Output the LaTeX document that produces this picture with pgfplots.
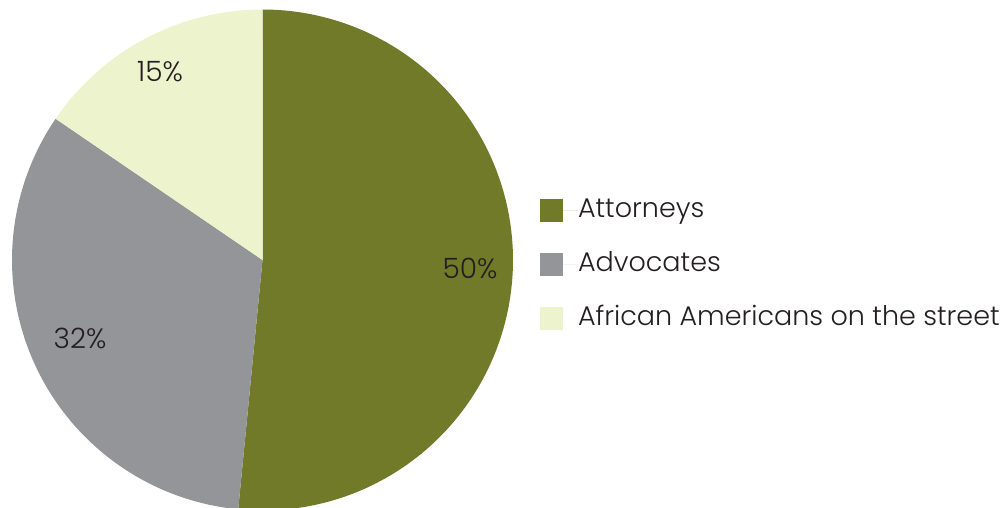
\documentclass[border=0pt]{standalone}
\usepackage{pgfplots}
\pgfplotsset{compat=1.18}
\usepackage{fontspec}
\setmainfont{Poppins Light}
\definecolor{attgreen}{HTML}{717A29}
\definecolor{advgrey}{HTML}{939598}
\definecolor{afrylw}{HTML}{ECF3CD}
\definecolor{txt}{HTML}{231F20}
\def\vA{50}\def\vB{32}\def\vC{15}
\pgfmathsetmacro\tot{\vA+\vB+\vC}
\pgfmathsetmacro\aA{\vA/\tot*360}
\pgfmathsetmacro\aB{\aA+\vB/\tot*360}
\begin{document}
\begin{tikzpicture}
\begin{axis}[
  width=500pt, height=254pt, scale only axis,
  xmin=0, xmax=1000, ymin=0, ymax=508, y dir=reverse,
  hide axis, clip=false,
  legend cell align=left,
  legend image code/.code={\fill[#1] (-5.75pt,-5.75pt) rectangle (5.75pt,5.75pt);
    \path (-5.75pt,0pt) -- (13.25pt,0pt);},
  legend style={draw=none, fill=none, inner sep=0pt, outer sep=0pt,
    at={(axis cs:540,198)}, anchor=north west,
    font=\fontsize{13.5pt}{15pt}\selectfont\color{txt},
    row sep=15pt,
    nodes={inner sep=0pt, text height=9.5pt, text depth=2.5pt},
    /tikz/every even column/.append style={column sep=0pt}},
]
\addplot[fill=attgreen, draw=none, domain=0:\aA, samples=150, variable=\t]
  ({262.5+250.5*sin(t)},{260-250.5*cos(t)}) -- (axis cs:262.5,260) -- cycle;
\addlegendentry{Attorneys}
\addplot[fill=advgrey, draw=none, domain=\aA:\aB, samples=100, variable=\t]
  ({262.5+250.5*sin(t)},{260-250.5*cos(t)}) -- (axis cs:262.5,260) -- cycle;
\addlegendentry{Advocates}
\addplot[fill=afrylw, draw=none, domain=\aB:360, samples=60, variable=\t]
  ({262.5+250.5*sin(t)},{260-250.5*cos(t)}) -- (axis cs:262.5,260) -- cycle;
\addlegendentry{African Americans on the street}
\node[txt, font=\fontsize{14pt}{16pt}\selectfont] at (axis cs:470,268) {50\%};
\node[txt, font=\fontsize{14pt}{16pt}\selectfont] at (axis cs:80,338) {32\%};
\node[txt, font=\fontsize{14pt}{16pt}\selectfont] at (axis cs:160,72) {15\%};
\coordinate (bl) at (axis cs:0,508);
\coordinate (tr) at (axis cs:1000,0);
\end{axis}
\pgfresetboundingbox
\useasboundingbox (bl) rectangle (tr);
\end{tikzpicture}
\end{document}
